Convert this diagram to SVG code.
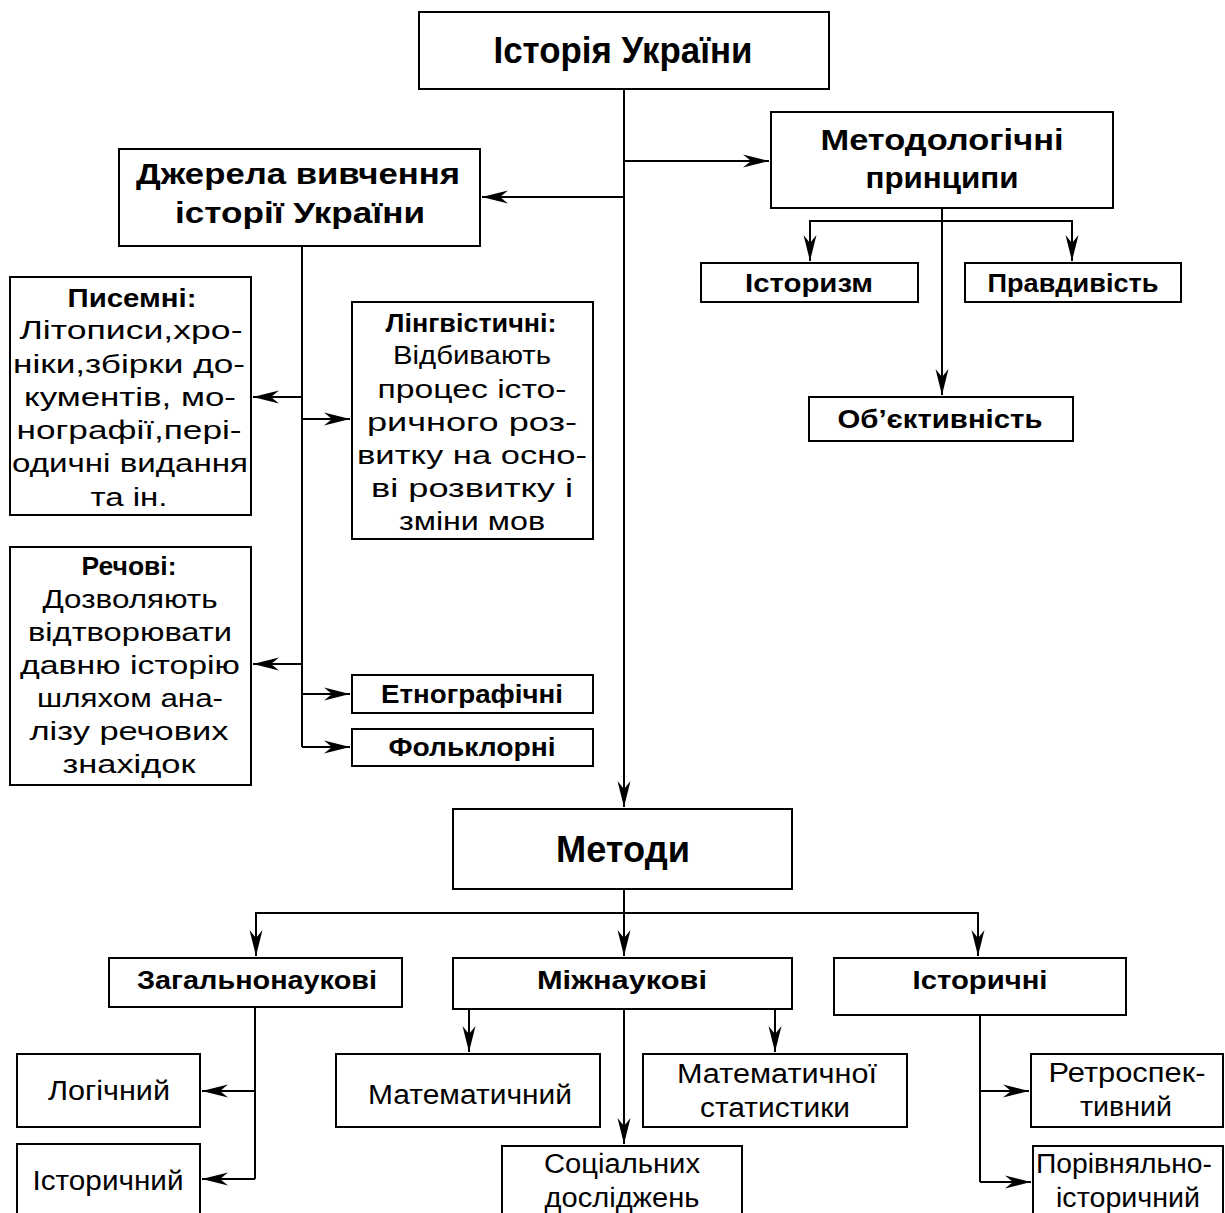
<svg xmlns="http://www.w3.org/2000/svg" width="1225" height="1213" viewBox="0 0 1225 1213">
<defs>
<marker id="ah" markerUnits="userSpaceOnUse" markerWidth="28" markerHeight="14" refX="26" refY="7" orient="auto">
<path d="M0,0.5 L26,7 L0,13.5 L8,7 Z" fill="#000"/>
</marker>
<style>
rect{fill:#fff;stroke:#000;stroke-width:2}
.c path{fill:none;stroke:#000;stroke-width:2}
text{font-family:"Liberation Sans",Arial,sans-serif;text-anchor:middle;fill:#000}
.b{font-weight:bold}
.t1{font-size:36px}
.t2{font-size:30px}
.t3{font-size:25px}
.r{font-size:26px}
.r2{font-size:27px}
</style>
</defs>
<rect x="0" y="0" width="1225" height="1213" style="stroke:none"/>
<g class="c">
<path d="M624,89 V807" marker-end="url(#ah)"/>
<path d="M624,161 H769" marker-end="url(#ah)"/>
<path d="M624,197 H482" marker-end="url(#ah)"/>
<path d="M942,208 V395" marker-end="url(#ah)"/>
<path d="M942,221 H810 V261" marker-end="url(#ah)"/>
<path d="M942,221 H1072 V261" marker-end="url(#ah)"/>
<path d="M302,246 V747"/>
<path d="M302,397 H253" marker-end="url(#ah)"/>
<path d="M302,419 H350" marker-end="url(#ah)"/>
<path d="M302,664 H253" marker-end="url(#ah)"/>
<path d="M302,694 H350" marker-end="url(#ah)"/>
<path d="M302,747 H350" marker-end="url(#ah)"/>
<path d="M624,889 V956" marker-end="url(#ah)"/>
<path d="M624,913 H256 V956" marker-end="url(#ah)"/>
<path d="M624,913 H978 V956" marker-end="url(#ah)"/>
<path d="M255,1007 V1179"/>
<path d="M255,1091 H202" marker-end="url(#ah)"/>
<path d="M255,1179 H202" marker-end="url(#ah)"/>
<path d="M469,1009 V1052" marker-end="url(#ah)"/>
<path d="M624,1009 V1144" marker-end="url(#ah)"/>
<path d="M775,1009 V1052" marker-end="url(#ah)"/>
<path d="M980,1015 V1182"/>
<path d="M980,1091 H1029" marker-end="url(#ah)"/>
<path d="M980,1182 H1031" marker-end="url(#ah)"/>
</g>
<g id="n-history">
<rect x="419" y="12" width="410" height="77"/>
<text class="b t1" x="623" y="63" textLength="259" lengthAdjust="spacingAndGlyphs">Історія України</text>
</g>
<g id="n-method-principles">
<rect x="771" y="112" width="342" height="96"/>
<text class="b t2" x="942" y="150" textLength="243" lengthAdjust="spacingAndGlyphs">Методологічні</text>
<text class="b t2" x="942" y="188" textLength="153" lengthAdjust="spacingAndGlyphs">принципи</text>
</g>
<g id="n-sources">
<rect x="119" y="149" width="361" height="97"/>
<text class="b t2" x="298" y="184" textLength="324" lengthAdjust="spacingAndGlyphs">Джерела вивчення</text>
<text class="b t2" x="300" y="223" textLength="250" lengthAdjust="spacingAndGlyphs">історії України</text>
</g>
<g id="n-historism">
<rect x="701" y="263" width="217" height="39"/>
<text class="b t3" x="809" y="292" textLength="128" lengthAdjust="spacingAndGlyphs">Історизм</text>
</g>
<g id="n-truth">
<rect x="965" y="263" width="216" height="39"/>
<text class="b t3" x="1073" y="292" textLength="171" lengthAdjust="spacingAndGlyphs">Правдивість</text>
</g>
<g id="n-objectivity">
<rect x="809" y="397" width="264" height="44"/>
<text class="b t3" x="940" y="428" textLength="205" lengthAdjust="spacingAndGlyphs">Об’єктивність</text>
</g>
<g id="n-written">
<rect x="10" y="277" width="241" height="238"/>
<text class="b t3" x="132" y="307" textLength="129" lengthAdjust="spacingAndGlyphs">Писемні:</text>
<text class="r" x="131" y="339" textLength="223" lengthAdjust="spacingAndGlyphs">Літописи,хро-</text>
<text class="r" x="129" y="373" textLength="232" lengthAdjust="spacingAndGlyphs">ніки,збірки до-</text>
<text class="r" x="130" y="406" textLength="212" lengthAdjust="spacingAndGlyphs">кументів, мо-</text>
<text class="r" x="129" y="439" textLength="225" lengthAdjust="spacingAndGlyphs">нографії,пері-</text>
<text class="r" x="130" y="472" textLength="236" lengthAdjust="spacingAndGlyphs">одичні видання</text>
<text class="r" x="129" y="506" textLength="77" lengthAdjust="spacingAndGlyphs">та ін.</text>
</g>
<g id="n-linguistic">
<rect x="352" y="302" width="241" height="237"/>
<text class="b t3" x="471" y="332" textLength="171" lengthAdjust="spacingAndGlyphs">Лінгвістичні:</text>
<text class="r" x="472" y="364" textLength="158" lengthAdjust="spacingAndGlyphs">Відбивають</text>
<text class="r" x="472" y="398" textLength="189" lengthAdjust="spacingAndGlyphs">процес істо-</text>
<text class="r" x="472" y="431" textLength="210" lengthAdjust="spacingAndGlyphs">ричного роз-</text>
<text class="r" x="472" y="464" textLength="230" lengthAdjust="spacingAndGlyphs">витку на осно-</text>
<text class="r" x="472" y="497" textLength="202" lengthAdjust="spacingAndGlyphs">ві розвитку і</text>
<text class="r" x="472" y="530" textLength="146" lengthAdjust="spacingAndGlyphs">зміни мов</text>
</g>
<g id="n-material">
<rect x="10" y="547" width="241" height="238"/>
<text class="b t3" x="129" y="575" textLength="95" lengthAdjust="spacingAndGlyphs">Речові:</text>
<text class="r" x="130" y="608" textLength="175" lengthAdjust="spacingAndGlyphs">Дозволяють</text>
<text class="r" x="130" y="641" textLength="204" lengthAdjust="spacingAndGlyphs">відтворювати</text>
<text class="r" x="130" y="674" textLength="220" lengthAdjust="spacingAndGlyphs">давню історію</text>
<text class="r" x="130" y="707" textLength="186" lengthAdjust="spacingAndGlyphs">шляхом ана-</text>
<text class="r" x="129" y="740" textLength="199" lengthAdjust="spacingAndGlyphs">лізу речових</text>
<text class="r" x="129" y="773" textLength="133" lengthAdjust="spacingAndGlyphs">знахідок</text>
</g>
<g id="n-ethno">
<rect x="352" y="675" width="241" height="38"/>
<text class="b t3" x="472" y="703" textLength="182" lengthAdjust="spacingAndGlyphs">Етнографічні</text>
</g>
<g id="n-folk">
<rect x="352" y="729" width="241" height="37"/>
<text class="b t3" x="472" y="756" textLength="167" lengthAdjust="spacingAndGlyphs">Фольклорні</text>
</g>
<g id="n-methods">
<rect x="453" y="809" width="339" height="80"/>
<text class="b t1" x="623" y="862" textLength="134" lengthAdjust="spacingAndGlyphs">Методи</text>
</g>
<g id="n-general">
<rect x="109" y="958" width="293" height="49"/>
<text class="b t3" x="257" y="989" textLength="240" lengthAdjust="spacingAndGlyphs">Загальнонаукові</text>
</g>
<g id="n-inter">
<rect x="453" y="958" width="339" height="51"/>
<text class="b t3" x="622" y="989" textLength="170" lengthAdjust="spacingAndGlyphs">Міжнаукові</text>
</g>
<g id="n-hist">
<rect x="834" y="958" width="292" height="57"/>
<text class="b t3" x="980" y="989" textLength="135" lengthAdjust="spacingAndGlyphs">Історичні</text>
</g>
<g id="n-logical">
<rect x="17" y="1054" width="183" height="73"/>
<text class="r2" x="109" y="1100" textLength="122" lengthAdjust="spacingAndGlyphs">Логічний</text>
</g>
<g id="n-historical">
<rect x="17" y="1144" width="183" height="80"/>
<text class="r2" x="108" y="1190" textLength="151" lengthAdjust="spacingAndGlyphs">Історичний</text>
</g>
<g id="n-math">
<rect x="336" y="1054" width="264" height="73"/>
<text class="r2" x="470" y="1104" textLength="204" lengthAdjust="spacingAndGlyphs">Математичний</text>
</g>
<g id="n-mathstat">
<rect x="643" y="1054" width="264" height="73"/>
<text class="r2" x="777" y="1083" textLength="200" lengthAdjust="spacingAndGlyphs">Математичної</text>
<text class="r2" x="775" y="1117" textLength="150" lengthAdjust="spacingAndGlyphs">статистики</text>
</g>
<g id="n-social">
<rect x="502" y="1146" width="240" height="80"/>
<text class="r2" x="622" y="1173" textLength="156" lengthAdjust="spacingAndGlyphs">Соціальних</text>
<text class="r2" x="622" y="1207" textLength="155" lengthAdjust="spacingAndGlyphs">досліджень</text>
</g>
<g id="n-retro">
<rect x="1031" y="1054" width="192" height="73"/>
<text class="r2" x="1127" y="1082" textLength="157" lengthAdjust="spacingAndGlyphs">Ретроспек-</text>
<text class="r2" x="1126" y="1116" textLength="92" lengthAdjust="spacingAndGlyphs">тивний</text>
</g>
<g id="n-compar">
<rect x="1033" y="1146" width="190" height="80"/>
<text class="r2" x="1124" y="1173" textLength="176" lengthAdjust="spacingAndGlyphs">Порівняльно-</text>
<text class="r2" x="1128" y="1207" textLength="144" lengthAdjust="spacingAndGlyphs">історичний</text>
</g>
</svg>
